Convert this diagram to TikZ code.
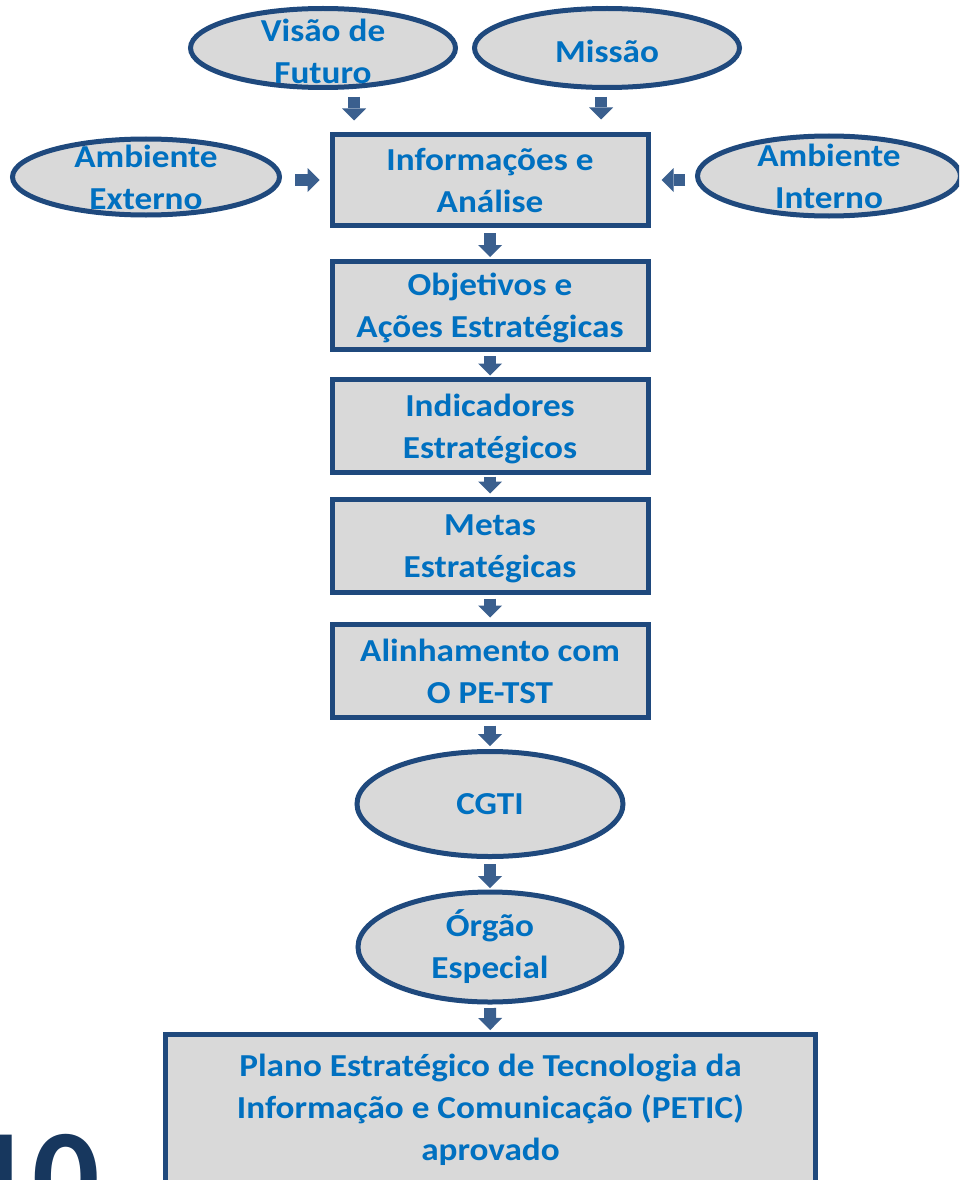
\documentclass[tikz,border=0pt]{standalone}
\usepackage{fontspec}
\setmainfont{Carlito}[FakeStretch=1.1]
\newfontfamily\numfont{Carlito}
\usetikzlibrary{shapes.geometric,arrows.meta}
\definecolor{bord}{HTML}{1F497D}
\definecolor{arr}{HTML}{3A5F8E}
\definecolor{txt}{HTML}{0070C0}
\definecolor{fillg}{HTML}{D9D9D9}
\definecolor{num}{HTML}{17375E}
\newcommand\nodepth[1]{\raisebox{0pt}[\height][0pt]{#1}}
\begin{document}
\begin{tikzpicture}[x=1pt,y=-1pt,
  tx/.style={text=txt, font=\bfseries\fontsize{32}{42}\selectfont, align=center, inner sep=0pt},
  box/.style={draw=bord, line width=5pt, fill=fillg, minimum width=316pt, minimum height=88pt, inner sep=0pt, tx},
  ell/.style={ellipse, draw=bord, line width=5pt, fill=fillg, inner sep=0pt},
  barrow/.style={draw=arr, line width=12pt, -{Triangle[width=24pt,length=12pt,line width=0pt]}}
]
\useasboundingbox (0,0) rectangle (959,1180);
\clip (0,0) rectangle (959,1180);
\fill[white] (0,0) rectangle (959,1180);

% ellipses on top
\node[ell, minimum width=265pt, minimum height=79pt, label={[tx,yshift=-3pt]center:Visão de\\Futuro}] (vis) at (323,48) {};
\node[ell, minimum width=265pt, minimum height=79pt, label={[tx,yshift=-3pt]center:Missão}] (mis) at (607,48) {};
\node[ell, minimum width=267pt, minimum height=76pt, label={[tx]center:Ambiente\\Externo}] (ext) at (146,177) {};
\node[ell, minimum width=263pt, minimum height=80pt, label={[tx]center:Ambiente\\Interno}] (int) at (829,176) {};

% boxes
\node[box, minimum height=90pt] (info) at (490,180) {Informações e\\Análise};
\node[box] (obj) at (490,305) {Objetivos e\\\nodepth{Ações Estratégicas}};
\node[box, minimum height=93pt] (ind) at (490,426) {Indicadores\\\nodepth{Estratégicos}};
\node[box, minimum height=93pt] (met) at (490,546) {Metas\\\nodepth{Estratégicas}};
\node[box, minimum height=93pt] (alin) at (490,671) {Alinhamento com\\O PE-TST};

\node[ell, minimum width=266pt, minimum height=105pt, label={[tx]center:CGTI}] (cgti) at (490,804) {};
\node[ell, minimum width=264pt, minimum height=110pt, label={[tx]center:Órgão\\Especial}] (org) at (490,947) {};

\node[box, minimum width=650pt, minimum height=151pt] (plano) at (490.5,1110) {Plano Estratégico de Tecnologia da\\Informação e Comunicação (PETIC)\\aprovado};

\node[anchor=base east, inner sep=0pt, text=num, font=\numfont\bfseries\fontsize{133}{133}\selectfont] (pg) at (100,1221) {10};

% arrows
\draw[barrow, shorten <=7pt, shorten >=12pt] ([xshift=31pt]vis.south) -- ([xshift=31pt]vis.south |- info.north);
\draw[barrow, shorten <=7pt, shorten >=13pt] ([xshift=-6pt]mis.south) -- ([xshift=-6pt]mis.south |- info.north);
\draw[barrow, shorten <=13pt, shorten >=10pt] (info.west -| ext.east) -- (info.west);
\draw[barrow, shorten <=10pt, shorten >=11pt] (info.east -| int.west) -- (info.east);
\draw[barrow, shorten <=5.5pt, shorten >=1.5pt] (info) -- (obj);
\draw[barrow, shorten <=4.5pt, shorten >=1.5pt] (obj) -- (ind);
\draw[barrow, shorten <=1.5pt, shorten >=3.5pt] (ind) -- (met);
\draw[barrow, shorten <=3.5pt, shorten >=4.5pt] (met) -- (alin);
\draw[barrow, shorten <=5.5pt, shorten >=3pt] (alin) -- (cgti);
\draw[barrow, shorten <=5pt, shorten >=1.5pt] (cgti) -- (org);
\draw[barrow, shorten <=3.5pt, shorten >=2pt] (org) -- (plano);
\end{tikzpicture}
\end{document}
